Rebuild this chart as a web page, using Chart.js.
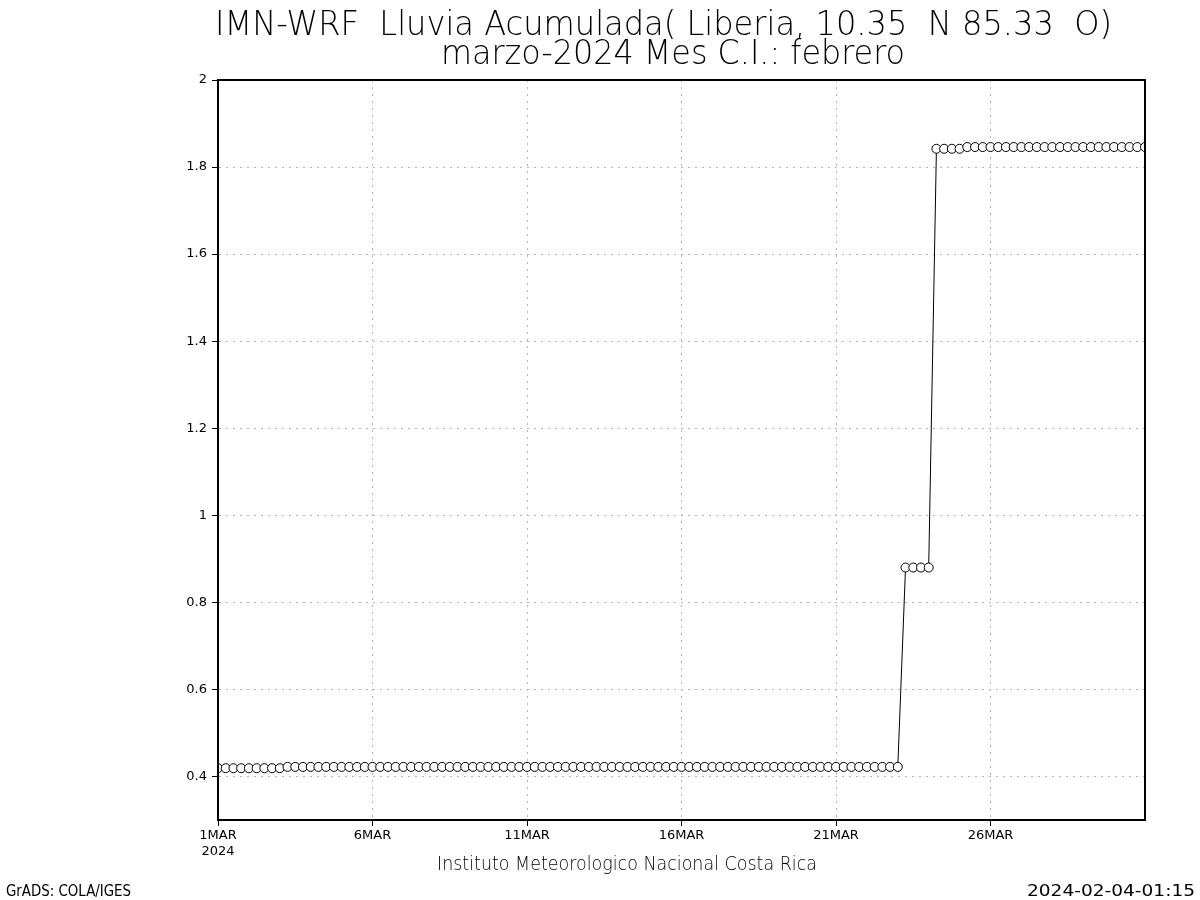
<!DOCTYPE html>
<html>
<head>
<meta charset="utf-8">
<script src="https://cdn.jsdelivr.net/npm/chart.js@4"></script>
<style>
  body { margin: 0; background: #fff; }
</style>
</head>
<body>
<canvas id="myChart" width="1200" height="900"></canvas>
<script>
// lluvia acumulada cada 6 horas, desde 1MAR 00Z hasta 31MAR 00Z
const stepHours = 6;
const lluvia = [
    0.419, 0.419, 0.419, 0.419, 0.419, 0.419, 0.419, 0.419, 0.419,
    0.422, 0.422, 0.422, 0.422, 0.422, 0.422, 0.422, 0.422, 0.422, 0.422,
    0.422, 0.422, 0.422, 0.422, 0.422, 0.422, 0.422, 0.422, 0.422, 0.422,
    0.422, 0.422, 0.422, 0.422, 0.422, 0.422, 0.422, 0.422, 0.422, 0.422,
    0.422, 0.422, 0.422, 0.422, 0.422, 0.422, 0.422, 0.422, 0.422, 0.422,
    0.422, 0.422, 0.422, 0.422, 0.422, 0.422, 0.422, 0.422, 0.422, 0.422,
    0.422, 0.422, 0.422, 0.422, 0.422, 0.422, 0.422, 0.422, 0.422, 0.422,
    0.422, 0.422, 0.422, 0.422, 0.422, 0.422, 0.422, 0.422, 0.422, 0.422,
    0.422, 0.422, 0.422, 0.422, 0.422, 0.422, 0.422, 0.422, 0.422, 0.422,
    0.88, 0.88, 0.88, 0.88,
    1.842, 1.842, 1.842, 1.842,
    1.846, 1.846, 1.846, 1.846, 1.846, 1.846, 1.846, 1.846, 1.846, 1.846,
    1.846, 1.846, 1.846, 1.846, 1.846, 1.846, 1.846, 1.846, 1.846, 1.846,
    1.846, 1.846, 1.846, 1.846,
];
const xTicks = [0, 120, 240, 360, 480, 600];
const xTickLabels = [["1MAR", "2024"], "6MAR", "11MAR", "16MAR", "21MAR", "26MAR"];
const yTicks = [0.4, 0.6, 0.8, 1, 1.2, 1.4, 1.6, 1.8, 2];

const titulo = "IMN-WRF  Lluvia Acumulada( Liberia, 10.35  N 85.33  O)";
const subtitulo = "marzo-2024 Mes C.I.: febrero";
const pie = "Instituto Meteorologico Nacional Costa Rica";
const pieIzq = "GrADS: COLA/IGES";
const pieDer = "2024-02-04-01:15";

const puntos = lluvia.map((v, i) => ({ x: i * stepHours, y: v }));

// texto estirado al ancho que tiene en la figura original
function fitText(ctx, text, left, baseline, width, size, weight) {
    ctx.save();
    ctx.font = weight + " " + size + "px 'DejaVu Sans'";
    ctx.fillStyle = "#000";
    ctx.textAlign = "left";
    ctx.textBaseline = "alphabetic";
    const w = ctx.measureText(text).width;
    ctx.translate(left, baseline);
    ctx.scale(width / w, 1);
    ctx.fillText(text, 0, 0);
    ctx.restore();
}

const textos = {
    id: "textos",
    afterDraw(chart) {
        const ctx = chart.ctx;
        const a = chart.chartArea;
        ctx.save();
        ctx.strokeStyle = "#000";
        ctx.lineWidth = 2;
        ctx.strokeRect(a.left, a.top, a.right - a.left, a.bottom - a.top);
        ctx.restore();
        fitText(ctx, titulo, 215, 35, 897, 34, "200");
        fitText(ctx, subtitulo, 441, 64, 464, 34, "200");
        fitText(ctx, pie, 437, 870, 380, 19, "200");
        fitText(ctx, pieIzq, 6, 896, 125, 15, "normal");
        fitText(ctx, pieDer, 1027, 896, 168, 15, "normal");
    },
};

const tickFont = { family: "'DejaVu Sans'", size: 13, weight: "normal" };

const config = {
    type: "line",
    data: {
        datasets: [
            {
                data: puntos,
                borderColor: "#000",
                borderWidth: 1,
                backgroundColor: "#fff",
                pointBackgroundColor: "#fff",
                pointBorderColor: "#000",
                pointBorderWidth: 1,
                pointRadius: 4.5,
                tension: 0,
            },
        ],
    },
    options: {
        responsive: false,
        animation: false,
        devicePixelRatio: 1,
        layout: { padding: { top: 80, right: 55, left: 158, bottom: 0 } },
        plugins: {
            legend: { display: false },
            tooltip: { enabled: false },
        },
        scales: {
            x: {
                type: "linear",
                min: 0,
                max: 720,
                afterBuildTicks: (s) => { s.ticks = xTicks.map((v) => ({ value: v })); },
                afterFit: (s) => { s.height = 80; },
                ticks: {
                    color: "#000",
                    font: tickFont,
                    padding: 2,
                    maxRotation: 0,
                    autoSkip: false,
                    callback: (v) => xTickLabels[xTicks.indexOf(v)],
                },
                grid: { color: "#b4b4b4", tickColor: "#000", tickLength: 6, lineWidth: 1 },
                border: { display: true, color: "#000", width: 2, dash: [2, 5] },
            },
            y: {
                min: 0.3,
                max: 2,
                afterBuildTicks: (s) => { s.ticks = yTicks.map((v) => ({ value: v })); },
                afterFit: (s) => { s.width = 60; },
                ticks: {
                    color: "#000",
                    font: tickFont,
                    padding: 5,
                    autoSkip: false,
                    callback: (v) => String(Math.round(v * 10) / 10),
                },
                grid: { color: "#b4b4b4", tickColor: "#000", tickLength: 6, lineWidth: 1 },
                border: { display: true, color: "#000", width: 2, dash: [2, 5] },
            },
        },
    },
    plugins: [textos],
};

const myChart = new Chart(document.getElementById("myChart"), config);
</script>
</body>
</html>
